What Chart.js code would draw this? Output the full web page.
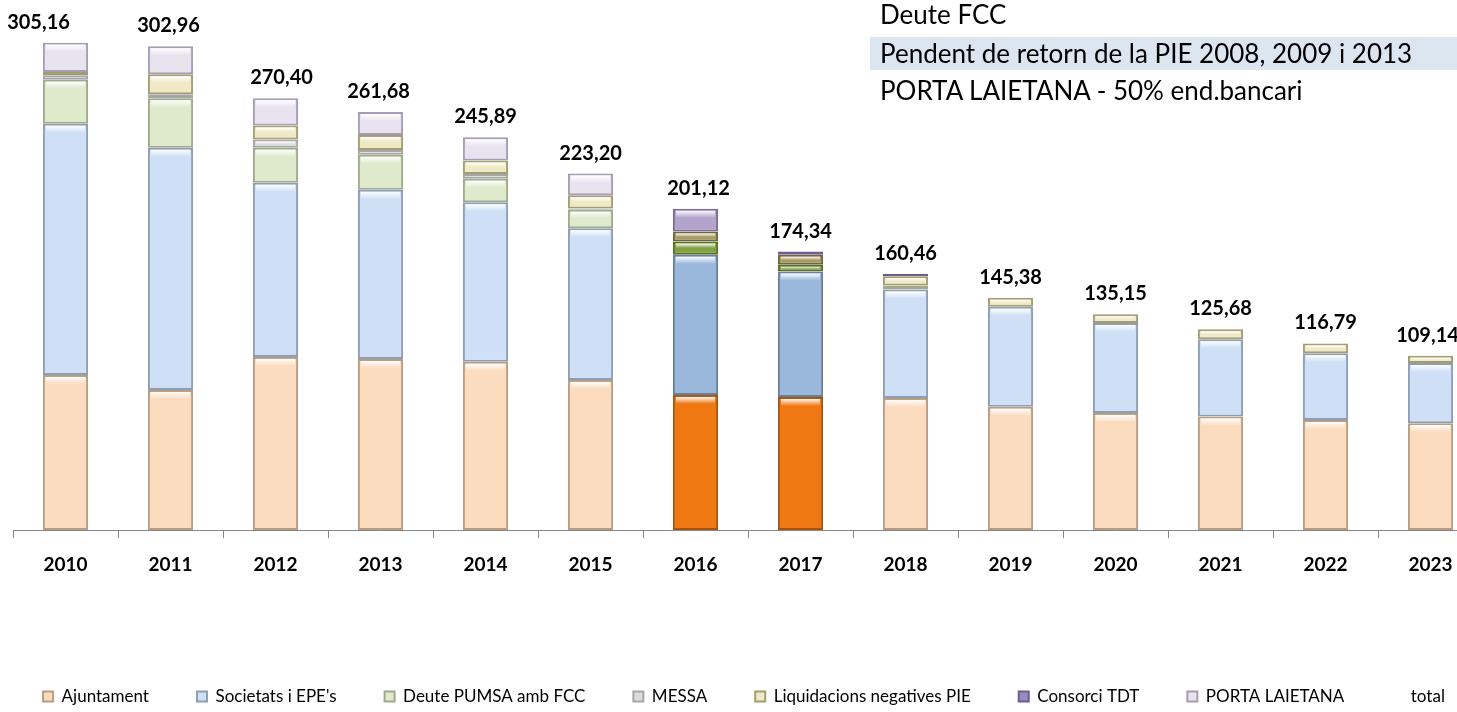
<!DOCTYPE html>
<html>
<head>
<meta charset="utf-8">
<script src="https://cdn.jsdelivr.net/npm/chart.js@4.4.1/dist/chart.umd.min.js"></script>
<style>
    html, body { margin: 0; padding: 0; background: #fff; overflow: hidden; }
    #wrap { position: relative; width: 1457px; height: 712px; overflow: hidden; }
    #chart { position: absolute; left: -20px; top: 3px; }
    .note { position: absolute; left: 870px; width: 587px; height: 33px; line-height: 33px;
            padding-left: 10px; box-sizing: border-box; font-family: Lato, sans-serif;
            font-size: 26px; color: #000; white-space: nowrap; }
    .note.band { background: #dce6f1; }
</style>
</head>
<body>
<div id="wrap">
    <canvas id="chart" width="1528" height="712"></canvas>
    <div class="note" style="top:-2px">Deute FCC</div>
    <div class="note band" style="top:37px">Pendent de retorn de la PIE 2008, 2009 i 2013</div>
    <div class="note" style="top:74px">PORTA LAIETANA - 50% end.bancari</div>
</div>
<script>
// Categories
const years = ['2010', '2011', '2012', '2013', '2014', '2015', '2016', '2017', '2018', '2019', '2020', '2021', '2022', '2023'];

// Series values (M EUR)
const ajuntament   = [97.1, 87.7, 108.4, 107.1, 105.3, 94.0, 84.6, 83.3, 82.7, 77.1, 73.3, 71.0, 68.9, 66.9];
const societats    = [157.3, 151.6, 109.0, 105.9, 99.9, 95.0, 87.7, 78.54, 67.86, 62.7, 56.35, 48.5, 41.8, 37.6];
const deutePumsa   = [27.6, 31.1, 21.9, 21.9, 14.7, 11.5, 8.3, 4.2, 2.5, 0, 0, 0, 0, 0];
const messa        = [2.7, 2.5, 5.2, 3.1, 3.1, 0.8, 0, 0, 0, 0, 0, 0, 0, 0];
const liquidacions = [2.1, 12.5, 8.8, 9.4, 8.3, 8.3, 6.3, 6.3, 5.9, 5.58, 5.5, 6.18, 6.09, 4.64];
const consorciTdt  = [0, 0, 0, 0, 0, 0, 0, 2.0, 1.5, 0, 0, 0, 0, 0];
const portaLaietana = [18.36, 17.56, 17.1, 14.28, 14.59, 13.6, 14.22, 0, 0, 0, 0, 0, 0, 0];
const totals       = [305.16, 302.96, 270.40, 261.68, 245.89, 223.20, 201.12, 174.34, 160.46, 145.38, 135.15, 125.68, 116.79, 109.14];

// Bars drawn in the darker "highlight" colours
const highlighted = ['2016', '2017'];

// fill, border, highlight fill, highlight border
const palette = {
    ajuntament:   ['#fbdcbf', '#b89c84', '#f07812', '#a8530e'],
    societats:    ['#cfe0f6', '#8d9db3', '#9ab8dc', '#6a7f9c'],
    deutePumsa:   ['#dfe9cb', '#a0aa8a', '#82a040', '#56702a'],
    messa:        ['#dcdcdc', '#a6a6a6', '#b8b8b8', '#808080'],
    liquidacions: ['#efe9c6', '#a49c72', '#a89c62', '#6e6640'],
    consorciTdt:  ['#9c8bbf', '#6e5e8e', '#9c8bbf', '#6e5e8e'],
    portaLaietana: ['#e9e3f0', '#a59db4', '#b4a4cc', '#7c6c98']
};

function isHighlighted(c) {
    return c.dataIndex !== undefined && highlighted.includes(years[c.dataIndex]);
}
function fillFor(key) {
    return (c) => isHighlighted(c) ? palette[key][2] : palette[key][0];
}
function borderFor(key) {
    return (c) => isHighlighted(c) ? palette[key][3] : palette[key][1];
}

function barSet(label, data, key) {
    return {
        type: 'bar',
        label: label,
        data: data,
        stack: 'deute',
        backgroundColor: fillFor(key),
        borderColor: borderFor(key),
        borderWidth: 2,
        borderSkipped: false,
        barPercentage: 0.43,
        categoryPercentage: 1
    };
}

// Bevel-like white sheen on top of each segment
const bevel = {
    id: 'bevel',
    afterDatasetsDraw(chart) {
        const ctx = chart.ctx;
        chart.data.datasets.forEach((ds, di) => {
            if (ds.type !== 'bar') return;
            const meta = chart.getDatasetMeta(di);
            meta.data.forEach((bar) => {
                const h = bar.base - bar.y;
                if (h < 6) return;
                const x0 = bar.x - bar.width / 2 + 3;
                const w = bar.width - 6;
                const sh = Math.min(7, h / 3);
                const g = ctx.createLinearGradient(0, bar.y + 2, 0, bar.y + 2 + sh);
                g.addColorStop(0, 'rgba(255,255,255,0.95)');
                g.addColorStop(1, 'rgba(255,255,255,0)');
                ctx.save();
                ctx.fillStyle = g;
                ctx.fillRect(x0, bar.y + 2, w, sh);
                ctx.restore();
            });
        });
    }
};

// Value labels above each stack, taken from the "total" series
// (the first one sits a little to the left in the original)
const labelNudge = [-27, -2, 6, -2, 0, 0, 3, 0, 0, 0, 0, 0, 0, -3];
const totalLabels = {
    id: 'totalLabels',
    afterDatasetsDraw(chart) {
        const di = chart.data.datasets.findIndex(d => d.label === 'total');
        const meta = chart.getDatasetMeta(di);
        const ctx = chart.ctx;
        ctx.save();
        ctx.font = 'bold 20px Lato, sans-serif';
        ctx.fillStyle = '#000';
        ctx.textAlign = 'center';
        ctx.textBaseline = 'alphabetic';
        meta.data.forEach((pt, i) => {
            ctx.fillText(totals[i].toFixed(2).replace('.', ','), pt.x + labelNudge[i], pt.y - 14);
        });
        ctx.restore();
    }
};

// empty side axes, only used to reserve room around the plot
const spacer = (w) => ({
    display: true,
    grid: { display: false },
    border: { display: false },
    ticks: { display: false },
    afterFit: (axis) => { axis.width = w; }
});

new Chart(document.getElementById('chart'), {
    data: {
        labels: years,
        datasets: [
            barSet('Ajuntament', ajuntament, 'ajuntament'),
            barSet("Societats i EPE's", societats, 'societats'),
            barSet('Deute PUMSA amb FCC', deutePumsa, 'deutePumsa'),
            barSet('MESSA', messa, 'messa'),
            barSet('Liquidacions negatives PIE', liquidacions, 'liquidacions'),
            barSet('Consorci TDT', consorciTdt, 'consorciTdt'),
            barSet('PORTA LAIETANA', portaLaietana, 'portaLaietana'),
            {
                type: 'line',
                label: 'total',
                data: totals,
                stack: 'total',
                showLine: false,
                pointRadius: 0,
                pointHoverRadius: 0,
                backgroundColor: 'rgba(0,0,0,0)',
                borderColor: 'rgba(0,0,0,0)'
            }
        ]
    },
    options: {
        responsive: false,
        animation: false,
        layout: { padding: 0 },
        scales: {
            x: {
                stacked: true,
                offset: true,
                grid: { display: true, offset: true, drawOnChartArea: false, drawTicks: true, tickLength: 8, color: '#868686' },
                border: { display: true, color: '#868686', width: 1 },
                ticks: { color: '#000', padding: 15, font: { family: 'Lato, sans-serif', size: 19, weight: 'bold' } },
                afterFit: (axis) => { axis.height = 110; }
            },
            y: Object.assign(spacer(33), { stacked: true, min: 0, max: 330 }),
            yRight: Object.assign(spacer(25), { position: 'right', min: 0, max: 330 })
        },
        plugins: {
            legend: {
                position: 'bottom',
                labels: {
                    boxWidth: 10,
                    boxHeight: 10,
                    padding: 48,
                    color: '#000',
                    font: { family: 'Lato, sans-serif', size: 17 }
                }
            },
            tooltip: { enabled: false }
        }
    },
    plugins: [bevel, totalLabels]
});
</script>
</body>
</html>
